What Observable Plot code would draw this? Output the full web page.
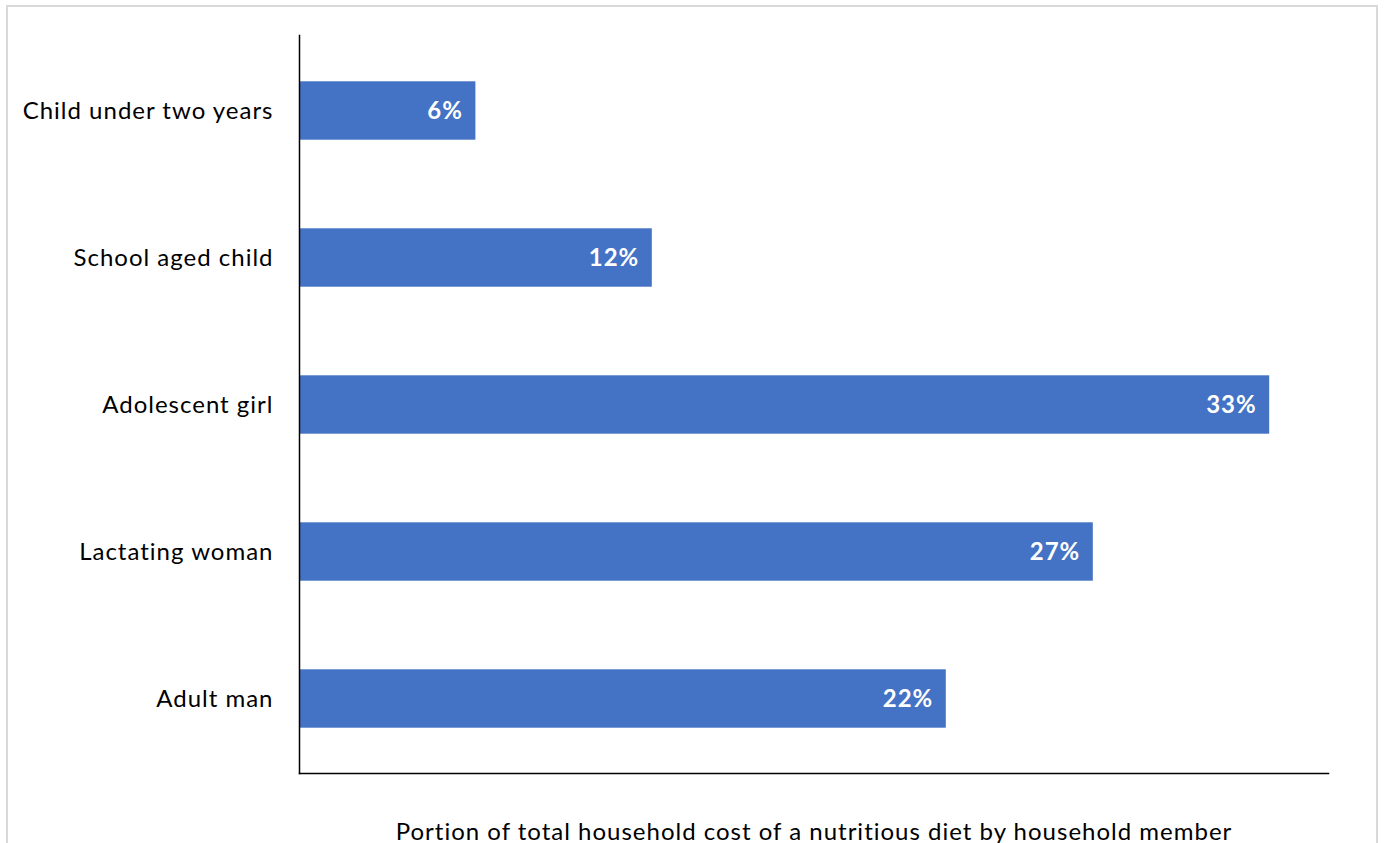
<!DOCTYPE html>
<html>
<head>
<meta charset="utf-8">
<script src="https://cdn.jsdelivr.net/npm/d3@7"></script>
<script src="https://cdn.jsdelivr.net/npm/@observablehq/plot@0.6"></script>
<style>
  html, body { margin: 0; padding: 0; background: #fff; overflow: hidden; }
  #wrap { position: relative; width: 1385px; height: 843px; }
  #border { position: absolute; left: 6px; top: 5px; width: 1372px; height: 900px; border: 2px solid #d9d9d9; box-sizing: border-box; }
  #chart { position: absolute; left: 0; top: 0; }
</style>
</head>
<body>
<div id="wrap"><div id="border"></div><div id="chart"></div></div>
<script>
const categories = ["Child under two years", "School aged child", "Adolescent girl", "Lactating woman", "Adult man"];
const values = [6, 12, 33, 27, 22];
const xLabel = "Portion of total household cost of a nutritious diet by household member";

const data = categories.map((c, i) => ({category: c, value: values[i]}));

const chart = Plot.plot({
  width: 1385,
  height: 843,
  marginLeft: 299,
  marginRight: 57,
  marginTop: 35,
  marginBottom: 70,
  style: {fontFamily: "Lato, 'Open Sans', sans-serif", fontSize: "24px", letterSpacing: "1px", color: "#000", background: "transparent"},
  x: {domain: [0, 35]},
  y: {domain: categories, padding: 0},
  marks: [
    Plot.barX(data, {x: "value", y: "category", fill: "#4472C4", insetTop: 44.3, insetBottom: 44.3}),
    Plot.text(data, {x: "value", y: "category", text: d => d.value + "%", textAnchor: "end", dx: -13, fill: "white", fontWeight: "bold", fontSize: 24}),
    Plot.axisY({tickSize: 0, tickPadding: 26, label: null, fontSize: 24}),
    Plot.axisX({ticks: [], tickSize: 0, label: xLabel, labelAnchor: "center", labelArrow: "none", labelOffset: 66, fontSize: 24}),
    Plot.frame({anchor: "left", stroke: "#000", strokeWidth: 1.5}),
    Plot.frame({anchor: "bottom", stroke: "#000", strokeWidth: 1.5})
  ]
});
document.getElementById("chart").appendChild(chart);
</script>
</body>
</html>
